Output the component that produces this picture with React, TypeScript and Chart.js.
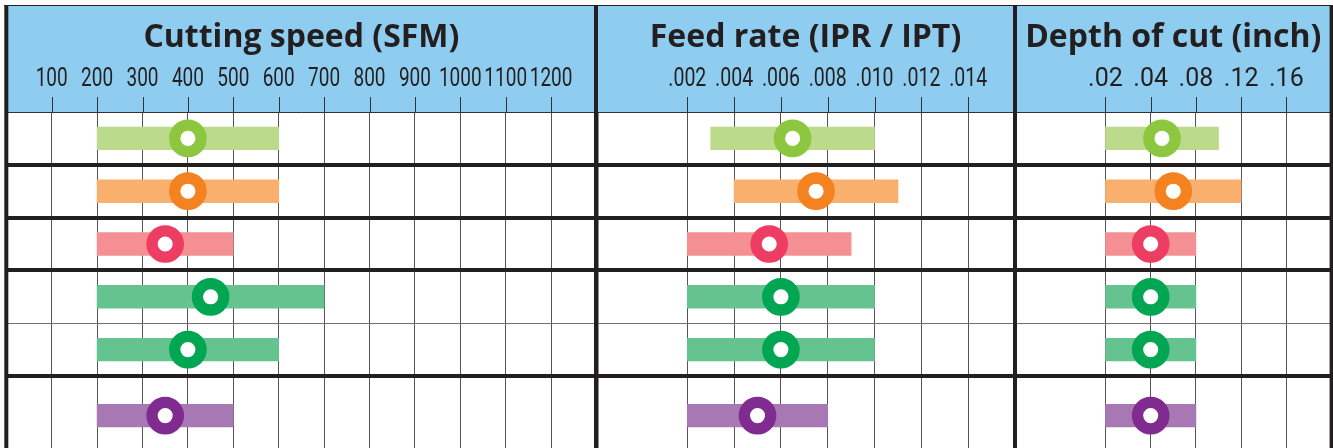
import React, { useEffect, useRef } from 'react';
import { Chart, registerables, LinearScale } from 'chart.js';

Chart.register(...registerables);

// ---------- data ----------
// six material rows (position on the row axis, counted from the top of the table)
const rowPositions = [0.5, 1.5, 2.5, 3.5, 4.5, 5.75];
const rowBoundaries = [0, 1, 2, 3, 4, 5];
const heavyBoundary = [false, true, true, true, false, true];

const barColors = ['#BBDA8C', '#F9AF6E', '#F49093', '#65C38F', '#65C38F', '#A778B4'];
const markerColors = ['#8DC63F', '#F58220', '#EE3D63', '#00A651', '#00A651', '#7F2B8F'];

// Cutting speed (SFM)
const speedTicks = [100, 200, 300, 400, 500, 600, 700, 800, 900, 1000, 1100, 1200];
const speedTickLabels = ['100', '200', '300', '400', '500', '600', '700', '800', '900', '1000', '1100', '1200'];
const speedMin = [200, 200, 200, 200, 200, 200];
const speedMax = [600, 600, 500, 700, 600, 500];
const speedTypical = [400, 400, 350, 450, 400, 350];

// Feed rate (IPR / IPT)
const feedTicks = [0.002, 0.004, 0.006, 0.008, 0.01, 0.012, 0.014];
const feedTickLabels = ['.002', '.004', '.006', '.008', '.010', '.012', '.014'];
const feedMin = [0.003, 0.004, 0.002, 0.002, 0.002, 0.002];
const feedMax = [0.01, 0.011, 0.009, 0.01, 0.01, 0.008];
const feedTypical = [0.0065, 0.0075, 0.0055, 0.006, 0.006, 0.005];

// Depth of cut (inch) – axis ticks are evenly spaced but not linear in value
const depthTicks = [0.02, 0.04, 0.08, 0.12, 0.16];
const depthTickLabels = ['.02', '.04', '.08', '.12', '.16'];
const depthMin = [0.02, 0.02, 0.02, 0.02, 0.02, 0.02];
const depthMax = [0.1, 0.12, 0.08, 0.08, 0.08, 0.08];
const depthTypical = [0.05, 0.06, 0.04, 0.04, 0.04, 0.04];

// ---------- styles ----------
const INK = '#231F20';
const HEADER_BLUE = '#8FCDF0';
const HEADER_TOP = 6;
const TICK_TOP = 97;
const LABEL_BASE = 86;
const TITLE_BASE = 47;
const HEADER_BOTTOM = 112;
const CANVAS_H = 448;

// piecewise scale for the depth axis (equal spacing between listed ticks)
function depthToIndex(v: number): number {
  const t = depthTicks;
  const n = t.length - 1;
  if (v <= t[0]) return (v - t[0]) / (t[1] - t[0]);
  for (let i = 0; i < n; i++) {
    if (v <= t[i + 1]) return i + (v - t[i]) / (t[i + 1] - t[i]);
  }
  return n + (v - t[n]) / (t[n] - t[n - 1]);
}
function indexToDepth(k: number): number {
  const t = depthTicks;
  const n = t.length - 1;
  if (k <= 0) return t[0] + k * (t[1] - t[0]);
  if (k >= n) return t[n] + (k - n) * (t[n] - t[n - 1]);
  const i = Math.floor(k);
  return t[i] + (k - i) * (t[i + 1] - t[i]);
}

class DepthScale extends LinearScale {
  static id = 'depthScale';
  static defaults = (LinearScale as any).defaults;
  getPixelForValue(value: number) {
    const a = depthToIndex(this.min);
    const b = depthToIndex(this.max);
    return this.getPixelForDecimal((depthToIndex(value) - a) / (b - a));
  }
  getValueForPixel(pixel: number) {
    const a = depthToIndex(this.min);
    const b = depthToIndex(this.max);
    return indexToDepth(a + this.getDecimalForPixel(pixel) * (b - a));
  }
}
Chart.register(DepthScale as any);

type Panel = {
  title: string;
  ticks: number[];
  labels: string[];
  labelScale: number;
  mins: number[];
  maxs: number[];
  typicals: number[];
  scaleType: string;
  min: number;
  max: number;
  left: number;
  width: number;
  padLeft: number;
  padRight: number;
};

const panels: Panel[] = [
  {
    title: 'Cutting speed (SFM)', ticks: speedTicks, labels: speedTickLabels, labelScale: 0.76,
    mins: speedMin, maxs: speedMax, typicals: speedTypical,
    scaleType: 'linear', min: 0, max: 1300, left: 0, width: 600, padLeft: 6.3, padRight: 3.5,
  },
  {
    title: 'Feed rate (IPR / IPT)', ticks: feedTicks, labels: feedTickLabels, labelScale: 0.78,
    mins: feedMin, maxs: feedMax, typicals: feedTypical,
    scaleType: 'linear', min: -0.0019, max: 0.016, left: 590, width: 430, padLeft: 6, padRight: 5,
  },
  {
    title: 'Depth of cut (inch)', ticks: depthTicks, labels: depthTickLabels, labelScale: 1.0,
    mins: depthMin, maxs: depthMax, typicals: depthTypical,
    scaleType: 'depthScale', min: -0.02, max: 0.2, left: 1010, width: 323, padLeft: 5, padRight: 1.4,
  },
];

function makeHeaderPlugin(p: Panel) {
  return {
    id: 'header',
    beforeDraw(chart: any) {
      const { ctx, chartArea } = chart;
      ctx.save();
      ctx.fillStyle = HEADER_BLUE;
      ctx.fillRect(chartArea.left, HEADER_TOP, chartArea.right - chartArea.left, chartArea.top - HEADER_TOP);
      ctx.restore();
    },
    afterDraw(chart: any) {
      const { ctx, chartArea, scales } = chart;
      const xs = scales.x;
      ctx.save();
      // tick marks in header
      ctx.strokeStyle = '#333';
      ctx.lineWidth = 1;
      ctx.beginPath();
      p.ticks.forEach((v) => {
        const x = Math.round(xs.getPixelForValue(v)) + 0.5;
        ctx.moveTo(x, TICK_TOP);
        ctx.lineTo(x, chartArea.top);
      });
      ctx.stroke();
      // tick labels
      ctx.fillStyle = INK;
      ctx.font = '25px Roboto';
      ctx.textAlign = 'center';
      ctx.textBaseline = 'alphabetic';
      p.ticks.forEach((v, i) => {
        const x = xs.getPixelForValue(v);
        ctx.save();
        ctx.translate(x, LABEL_BASE);
        ctx.scale(p.labelScale, 1);
        ctx.fillText(p.labels[i], 0, 0);
        ctx.restore();
      });
      // title
      ctx.font = 'bold 32px "Open Sans"';
      ctx.fillText(p.title, (chartArea.left + chartArea.right) / 2, TITLE_BASE);
      // top rule and panel borders
      ctx.fillRect(chartArea.left - 2, HEADER_TOP - 1, chartArea.right - chartArea.left + 4, 1);
      ctx.fillRect(chartArea.left - 2, HEADER_TOP - 1, 4, chart.height);
      ctx.fillRect(chartArea.right - 2, HEADER_TOP - 1, 4, chart.height);
      ctx.restore();
    },
  };
}

function makeConfig(p: Panel): any {
  return {
    type: 'bar',
    data: {
      datasets: [
        {
          type: 'line',
          order: 0,
          showLine: false,
          clip: false,
          data: rowPositions.map((y, i) => ({ x: p.typicals[i], y })),
          pointRadius: 13.2,
          pointBorderWidth: 11.3,
          pointBackgroundColor: '#FFFFFF',
          pointBorderColor: markerColors,
          pointHoverRadius: 13.2,
        },
        {
          type: 'bar',
          order: 1,
          indexAxis: 'y',
          data: rowPositions.map((y, i) => ({ x: [p.mins[i], p.maxs[i]], y })),
          backgroundColor: barColors,
          borderWidth: 0,
          barThickness: 22.7,
        },
      ],
    },
    options: {
      indexAxis: 'y',
      responsive: false,
      maintainAspectRatio: false,
      animation: false,
      events: [],
      layout: { autoPadding: false, padding: { left: p.padLeft, right: p.padRight, top: HEADER_BOTTOM, bottom: 0 } },
      plugins: { legend: { display: false }, tooltip: { enabled: false }, title: { display: false } },
      scales: {
        x: {
          type: p.scaleType,
          position: 'top',
          min: p.min,
          max: p.max,
          bounds: 'data',
          offset: false,
          afterBuildTicks: (scale: any) => {
            scale.ticks = p.ticks.map((value) => ({ value }));
          },
          ticks: { display: false },
          border: { display: false },
          grid: { color: '#555555', lineWidth: 1, drawTicks: false, z: -1 },
        },
        y: {
          type: 'linear',
          reverse: true,
          min: 0,
          max: (CANVAS_H - HEADER_BOTTOM) / 52.8,
          bounds: 'data',
          offset: false,
          afterBuildTicks: (scale: any) => {
            scale.ticks = rowBoundaries.map((value) => ({ value }));
          },
          ticks: { display: false },
          border: { display: false },
          grid: {
            offset: false,
            drawTicks: false,
            color: (c: any) => (heavyBoundary[c.index] ? INK : c.index === 0 ? '#333333' : '#707070'),
            lineWidth: (c: any) => (heavyBoundary[c.index] ? 4 : 1),
          },
        },
      },
    },
    plugins: [makeHeaderPlugin(p)],
  };
}

export default function App() {
  const refs = [useRef<HTMLCanvasElement>(null), useRef<HTMLCanvasElement>(null), useRef<HTMLCanvasElement>(null)];
  useEffect(() => {
    const charts = panels.map((p, i) => new Chart(refs[i].current as HTMLCanvasElement, makeConfig(p)));
    return () => charts.forEach((c) => c.destroy());
  }, []);
  return (
    <div style={{ position: 'absolute', left: 0, top: 0, width: 1333, height: CANVAS_H, overflow: 'hidden', background: '#fff' }}>
      {panels.map((p, i) => (
        <canvas
          key={i}
          ref={refs[i]}
          width={p.width}
          height={CANVAS_H}
          style={{ position: 'absolute', left: p.left, top: 0, width: p.width, height: CANVAS_H }}
        />
      ))}
    </div>
  );
}
